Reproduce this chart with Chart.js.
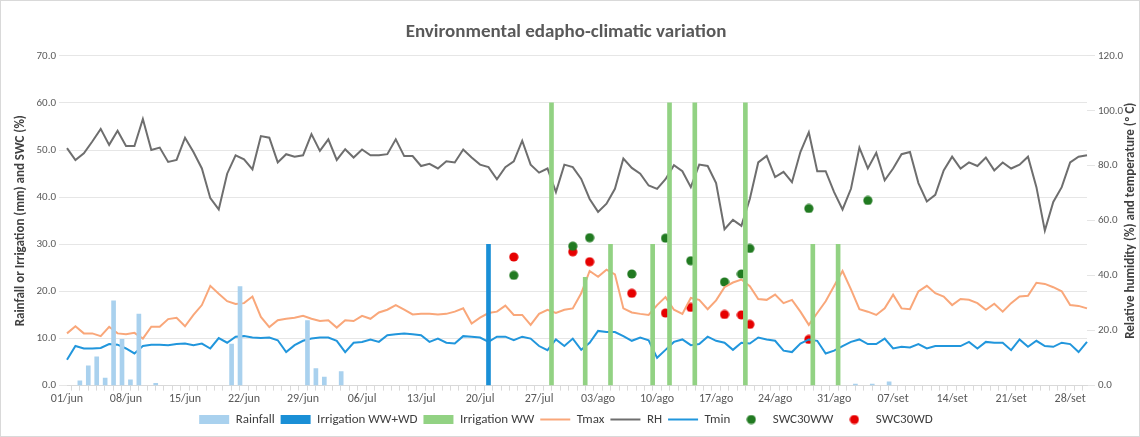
<!DOCTYPE html>
<html>
<head>
<meta charset="utf-8">
<script src="https://cdn.jsdelivr.net/npm/chart.js@4"></script>
<style>
  body { margin: 0; background: #fff; }
  #wrap { width: 1140px; height: 437px; position: relative; box-sizing: border-box; border: 1px solid #d9d9d9; }
</style>
</head>
<body>
<div id="wrap"><canvas id="c"></canvas></div>
<script>
// Days: 01/jun to 30/set
const months = [["jun", 30], ["jul", 31], ["ago", 31], ["set", 30]];

// Relative humidity (%)
const rh = [86.4,82.1,84.5,88.8,93.4,87.6,92.7,87.2,87.2,97.0,85.7,86.6,81.4,82.1,90.2,85.0,79.0,68.2,64.1,77.1,83.8,82.3,78.7,90.8,90.2,81.2,84.2,83.3,83.8,91.5,85.4,89.6,82.1,86.0,83.0,85.9,83.8,83.8,84.2,89.6,83.5,83.5,79.9,80.7,79.0,81.6,81.2,85.9,83.0,80.4,79.5,75.1,79.5,81.6,89.1,80.4,77.5,
  79.0,70.4,80.4,79.5,75.2,67.9,63.2,66.2,71.6,82.6,79.2,77.1,72.8,71.6,75.1,80.2,78.0,72.2,80.4,79.9,73.7,56.9,60.3,58.1,67.9,81.2,83.6,75.9,77.8,74.0,85.0,92.2,78.0,78.0,70.4,64.1,71.6,86.6,79.0,84.7,74.7,79.0,84.2,85.0,73.7,67.0,69.4,78.3,83.3,79.0,81.2,79.9,83.0,78.3,81.2,79.0,80.4,83.3,72.2,56.4,66.8,72.2,81.2,83.3,83.8];
// Max temperature (ºC)
const tmax = [19.0,21.6,19.0,19.0,18.0,21.4,19.0,18.7,19.2,17.1,21.4,21.4,24.2,24.7,21.6,25.7,29.3,36.3,33.4,30.7,29.7,30.0,32.4,25.0,21.3,23.8,24.3,24.7,25.4,24.3,23.5,23.8,21.1,23.8,23.5,25.4,24.3,26.6,27.6,29.3,27.6,25.9,26.1,26.1,25.9,26.1,26.9,28.1,22.6,24.7,26.4,26.9,29.1,25.7,25.7,22.1,26.1,
  27.6,26.4,27.6,28.1,33.6,41.7,39.6,42.2,40.5,28.1,26.6,26.1,25.7,29.3,32.2,27.6,26.1,31.9,31.2,27.8,31.0,35.8,37.5,38.6,36.2,31.5,31.2,33.1,30.0,31.2,26.9,22.1,26.4,30.7,36.2,41.7,35.0,27.8,26.9,25.7,28.1,33.1,28.1,27.8,34.3,36.3,33.6,32.4,29.3,31.5,31.2,30.0,27.6,29.8,26.9,30.0,32.4,32.7,37.4,37.0,35.8,34.3,29.3,29.0,28.1];
// Min temperature (ºC)
const tmin = [9.4,14.4,13.5,13.5,13.7,15.1,14.9,13.5,11.7,14.4,14.9,14.9,14.7,15.1,15.3,14.7,15.3,13.5,17.3,15.6,17.8,18.0,17.5,17.3,17.5,16.5,12.2,14.7,16.3,17.1,17.5,17.5,16.3,12.2,15.6,15.9,16.8,15.9,18.3,18.7,19.0,18.7,18.3,15.9,17.1,15.6,15.3,18.0,17.8,17.5,15.9,17.8,17.8,16.5,17.8,17.1,14.4,
  12.9,16.8,14.4,17.1,13.0,15.6,19.9,19.5,19.5,18.0,16.3,17.5,16.5,10.1,13.0,15.9,16.8,14.7,15.1,17.8,16.3,15.6,13.0,15.6,15.3,17.5,16.8,16.3,12.7,12.2,15.3,16.8,16.3,11.7,12.7,14.4,15.9,16.8,15.1,15.1,17.1,13.5,14.1,13.9,15.1,13.5,14.4,14.4,14.4,14.4,15.9,13.5,15.9,15.6,15.6,12.9,16.8,14.1,16.3,14.4,14.1,15.6,15.1,12.2,15.9];

// Rainfall (mm): day index and amount
const rainDays = [2, 3, 4, 5, 6, 7, 8, 9, 11, 20, 21, 29, 30, 31, 33, 94, 96, 98];
const rainMm   = [1.0, 4.2, 6.1, 1.6, 18.0, 9.8, 1.2, 15.2, 0.5, 8.8, 21.0, 13.8, 3.6, 1.8, 3.0, 0.3, 0.3, 0.8];
// Irrigation WW+WD
const irrBothDays = [50];
const irrBothMm   = [30];
// Irrigation WW
const irrWwDays = [57, 61, 64, 69, 71, 74, 80, 88, 91];
const irrWwMm   = [60, 23, 30, 30, 60, 60, 60, 30, 30];
// Soil water content at 30 cm (%)
const swcWwDays = [53, 60, 62, 67, 71, 74, 78, 80, 81, 88, 95];
const swcWw     = [23.4, 29.6, 31.4, 23.7, 31.3, 26.5, 22.0, 23.7, 29.1, 37.6, 39.3];
const swcWdDays = [53, 60, 62, 67, 71, 74, 78, 80, 81, 88];
const swcWd     = [27.3, 28.4, 26.3, 19.6, 15.4, 16.6, 15.1, 15.0, 13.0, 9.8];

const labels = [];
months.forEach(([m, n]) => {
  for (let d = 1; d <= n; d++) labels.push(String(d).padStart(2, "0") + "/" + m);
});

function spread(days, vals) {
  const out = labels.map(() => null);
  days.forEach((d, i) => { out[d] = vals[i]; });
  return out;
}

// small round marker used for the points and their legend entries
function dot(color) {
  const c = document.createElement("canvas");
  c.width = 10; c.height = 10;
  const g = c.getContext("2d");
  g.fillStyle = color;
  g.beginPath(); g.arc(5, 5, 4.6, 0, Math.PI * 2); g.fill();
  return c;
}

const font = { family: "Calibri, Carlito, 'Liberation Sans', Arial, sans-serif" };
const grey = "#595959";
const rightTitle = "Relative humidity (%) and temperature (º C)";

// right axis title reading bottom-to-top
const rightTitlePlugin = {
  id: "rightTitle",
  afterDraw(chart) {
    const a = chart.chartArea, g = chart.ctx;
    g.save();
    g.translate(1130, (a.top + a.bottom) / 2);
    g.rotate(-Math.PI / 2);
    g.font = "bold 13px " + font.family;
    g.fillStyle = "#404040";
    g.textAlign = "center";
    g.textBaseline = "middle";
    g.fillText(rightTitle, 0, 0);
    g.restore();
  }
};

new Chart(document.getElementById("c"), {
  data: {
    labels,
    datasets: [
      { type: "bar", label: "Rainfall", data: spread(rainDays, rainMm), backgroundColor: "#a9d1ee", barThickness: 4, yAxisID: "y", pointStyle: "rect" },
      { type: "bar", label: "Irrigation WW+WD", data: spread(irrBothDays, irrBothMm), backgroundColor: "#1a8fd6", barThickness: 4, yAxisID: "y", pointStyle: "rect" },
      { type: "bar", label: "Irrigation WW", data: spread(irrWwDays, irrWwMm), backgroundColor: "#92d283", barThickness: 4, yAxisID: "y", pointStyle: "rect" },
      { type: "line", label: "Tmax", data: tmax, borderColor: "#f9a77a", backgroundColor: "#f9a77a", borderWidth: 2, pointRadius: 0, pointStyle: "line", yAxisID: "y1" },
      { type: "line", label: "RH", data: rh, borderColor: "#6e6e6e", backgroundColor: "#6e6e6e", borderWidth: 2, pointRadius: 0, pointStyle: "line", yAxisID: "y1" },
      { type: "line", label: "Tmin", data: tmin, borderColor: "#2196dc", backgroundColor: "#2196dc", borderWidth: 2, pointRadius: 0, pointStyle: "line", yAxisID: "y1" },
      { type: "line", label: "SWC30WW", data: spread(swcWwDays, swcWw), showLine: false, pointRadius: 5, pointStyle: dot("#217a21"), backgroundColor: "#217a21", borderColor: "#217a21", yAxisID: "y" },
      { type: "line", label: "SWC30WD", data: spread(swcWdDays, swcWd), showLine: false, pointRadius: 5, pointStyle: dot("#e60000"), backgroundColor: "#e60000", borderColor: "#e60000", yAxisID: "y" }
    ]
  },
  plugins: [rightTitlePlugin],
  options: {
    responsive: true,
    maintainAspectRatio: false,
    animation: false,
    layout: { padding: { left: 8, right: 16, top: 8, bottom: 0 } },
    plugins: {
      title: { display: true, text: "Environmental edapho-climatic variation", color: grey, font: { ...font, size: 19, weight: "bold" }, padding: { top: 12, bottom: 12 } },
      legend: {
        position: "bottom",
        labels: {
          usePointStyle: true, pointStyleWidth: 30, boxHeight: 9, color: "#404040", padding: 6,
          font: { ...font, size: 13 }
        }
      },
      tooltip: { enabled: false }
    },
    scales: {
      x: {
        offset: false,
        grid: { drawOnChartArea: false, color: "#d9d9d9", tickLength: 5 },
        border: { color: "#d9d9d9" },
        ticks: {
          autoSkip: false, maxRotation: 0, color: grey, font: { ...font, size: 12 }, padding: 1,
          callback: (v, i) => (i % 7 === 0 ? labels[i] : "")
        }
      },
      y: {
        position: "left", min: 0, max: 70,
        afterFit: s => { s.width = 58; },
        grid: { color: "#e6e6e6" },
        border: { display: false },
        ticks: { stepSize: 10, color: grey, font: { ...font, size: 11 }, callback: v => v.toFixed(1) },
        title: { display: true, text: "Rainfall or Irrigation (mm) and SWC (%)", color: "#404040", font: { ...font, size: 13, weight: "bold" } }
      },
      y1: {
        position: "right", min: 0, max: 120,
        afterFit: s => { s.width = 36; },
        grid: { drawOnChartArea: false },
        border: { display: false },
        ticks: { stepSize: 20, color: grey, font: { ...font, size: 11 }, callback: v => v.toFixed(1) }
      }
    }
  }
});
</script>
</body>
</html>
